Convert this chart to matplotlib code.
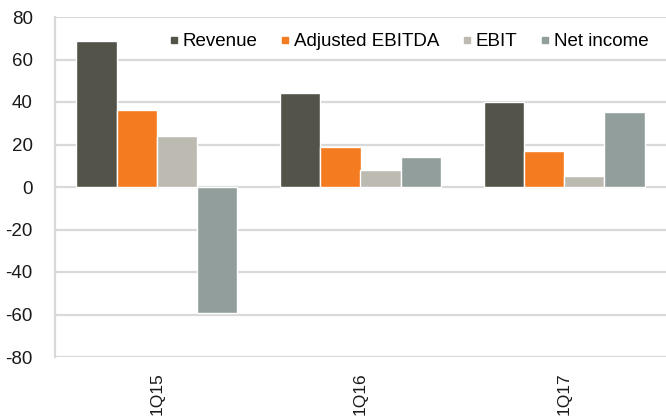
import matplotlib.pyplot as plt
import numpy as np
from matplotlib.lines import Line2D

plt.rcParams['font.family'] = ['Liberation Sans', 'DejaVu Sans']

# Données
quarters = ['1Q15', '1Q16', '1Q17']
series_names = ['Revenue', 'Adjusted EBITDA', 'EBIT', 'Net income']
revenue = [68.7, 44.1, 39.9]
adj_ebitda = [36.2, 19.0, 17.1]
ebit = [24.0, 8.0, 5.2]
net_income = [-59.3, 14.0, 35.4]
y_ticks = [-80, -60, -40, -20, 0, 20, 40, 60, 80]

# Couleurs
COLORS = ['#53534a', '#f47b20', '#bdbab2', '#929e9c']
GRID = '#d9d9d9'
FS = 13.5

fig = plt.figure(figsize=(6.66, 4.2), dpi=100)
ax = fig.add_axes([55 / 666, 1 - 357 / 420, 611 / 666, 340 / 420])

x = np.arange(len(quarters))
bar_w = 0.1975
all_series = [revenue, adj_ebitda, ebit, net_income]
for i, (vals, color) in enumerate(zip(all_series, COLORS)):
    offset = (i - 1.5) * bar_w
    ax.bar(x + offset, vals, width=bar_w, color=color,
           edgecolor='white', linewidth=1.0, zorder=3)

ax.set_xlim(-0.5, 2.5)
ax.set_ylim(-80, 80)
ax.set_yticks(y_ticks)
ax.set_yticklabels([str(v) for v in y_ticks], fontsize=FS, color='#1a1a1a')
ax.yaxis.grid(True, color=GRID, linewidth=1.6, zorder=0)
ax.tick_params(axis='y', length=0, pad=16)

# Étiquettes des trimestres
ax.set_xticks(x)
ax.set_xticklabels(quarters, rotation=90, fontsize=12.5, color='#1a1a1a',
                   va='top')
ax.tick_params(axis='x', length=0, pad=11)

for side in ['top', 'right', 'bottom']:
    ax.spines[side].set_visible(False)
ax.spines['left'].set_color(GRID)
ax.spines['left'].set_linewidth(1.6)

handles = [Line2D([0], [0], marker='s', linestyle='none', markersize=5,
                  markerfacecolor=c, markeredgecolor=c) for c in COLORS]
ax.legend(handles, series_names, loc='upper right', ncol=4, frameon=False,
          fontsize=FS, handlelength=0.45, handletextpad=0.25,
          columnspacing=1.25, bbox_to_anchor=(0.99, 0.986),
          borderaxespad=0.2)

fig.savefig('out.png', dpi=100)
